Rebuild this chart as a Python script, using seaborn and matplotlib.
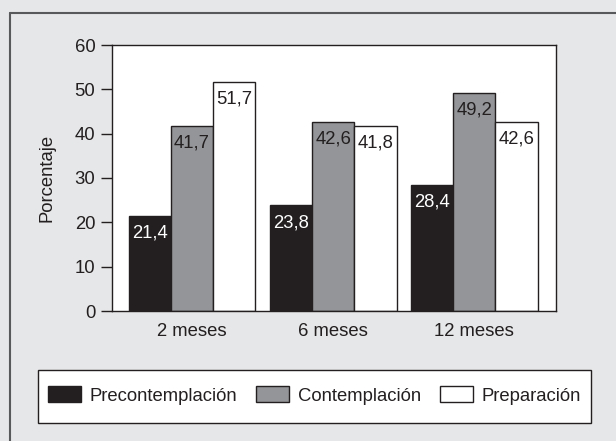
import matplotlib
matplotlib.use("Agg")
import matplotlib.pyplot as plt
from matplotlib.lines import Line2D
from matplotlib.patches import Rectangle
import pandas as pd
import seaborn as sns

# data
periodos = ["2 meses", "6 meses", "12 meses"]
estadios = ["Precontemplación", "Contemplación", "Preparación"]
precontemplacion = [21.4, 23.8, 28.4]
contemplacion = [41.7, 42.6, 49.2]
preparacion = [51.7, 41.8, 42.6]
y_ticks = [0, 10, 20, 30, 40, 50, 60]

colores = ["#231f20", "#939598", "#ffffff"]
color_texto = ["#ffffff", "#231f20", "#231f20"]
fondo = "#e6e7e8"
tinta = "#231f20"

df = pd.DataFrame({
    "periodo": periodos * 3,
    "estadio": [e for e in estadios for _ in periodos],
    "valor": precontemplacion + contemplacion + preparacion,
})

sns.set_theme(style="ticks")
plt.rcParams["font.family"] = ["Liberation Sans", "DejaVu Sans"]
fs = 13.3

fig, ax = plt.subplots(figsize=(6.16, 4.41), dpi=100)
fig.patch.set_facecolor(fondo)
fig.subplots_adjust(left=112 / 616, right=556 / 616, top=1 - 45 / 441, bottom=1 - 311 / 441)

sns.barplot(data=df, x="periodo", y="valor", hue="estadio", order=periodos,
            hue_order=estadios, palette=colores, width=0.9, edgecolor=tinta,
            linewidth=1.0, saturation=1, legend=False, ax=ax)

# value labels inside the top of each bar, decimal comma
for cont, col in zip(ax.containers, color_texto):
    etiquetas = [f"{b.get_height():.1f}".replace(".", ",") for b in cont]
    ax.bar_label(cont, labels=etiquetas, padding=-18.5, color=col, fontsize=fs)

ax.set_facecolor("white")
ax.set_xlim(-0.567, 2.58)
ax.set_ylim(0, 60)
ax.set_yticks(y_ticks)
ax.set_xlabel("")
ax.set_ylabel("Porcentaje", fontsize=fs, color=tinta)
ax.yaxis.set_label_coords(-0.127, 0.5)
ax.tick_params(axis="y", length=8, width=1.0, pad=4, labelsize=fs, colors=tinta)
ax.tick_params(axis="x", length=0, pad=8.5, labelsize=fs, colors=tinta)
for sp in ax.spines.values():
    sp.set_visible(True)
    sp.set_color(tinta)
    sp.set_linewidth(1.0)

# legend box drawn separately so its size matches the reference
fig.add_artist(Rectangle((38 / 616, 1 - 423 / 441), 553 / 616, 53 / 441,
                         transform=fig.transFigure, facecolor="white",
                         edgecolor=tinta, linewidth=1.0, zorder=1))
leg = fig.legend(ax.containers, estadios, loc="center", ncol=3,
                 bbox_to_anchor=(314.5 / 616, 1 - 395.5 / 441),
                 fontsize=fs, frameon=False, borderpad=0,
                 handlelength=1.78, handleheight=0.92, handletextpad=0.5,
                 columnspacing=1.0)
leg.set_zorder(5)
for t in leg.get_texts():
    t.set_color(tinta)

# outer frame of the figure panel (left and top edges only)
borde = "#58595b"
fig.add_artist(Line2D([9.5 / 616, 9.5 / 616], [0, 1 - 13 / 441], color=borde, lw=1.5))
fig.add_artist(Line2D([9.5 / 616, 1], [1 - 13 / 441, 1 - 13 / 441], color=borde, lw=1.5))

fig.savefig("out.png", dpi=100, facecolor=fondo)
